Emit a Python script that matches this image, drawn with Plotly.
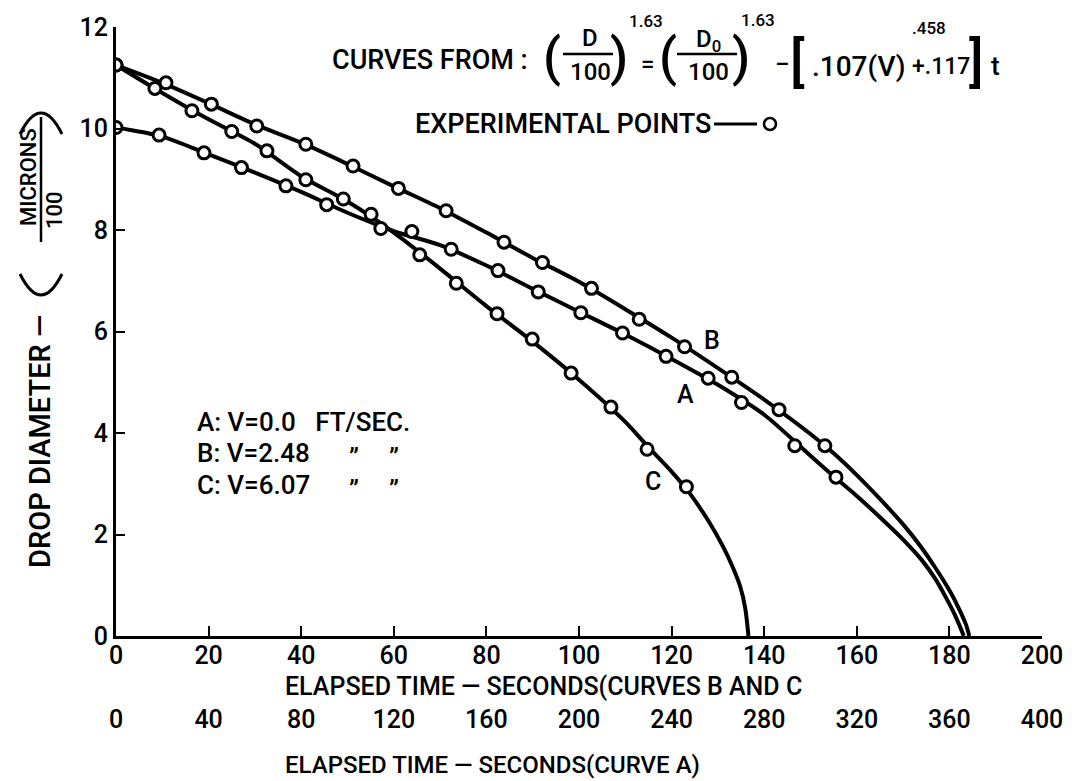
import plotly.graph_objects as go

W, H = 1080, 781

# ---------------- data ----------------
# Curve B, V = 2.48 ft/s  (time axis: seconds, 0-200 scale)
b_exp_t = [0, 10.8, 20.6, 30.4, 41.0, 51.2, 61.0, 71.3, 83.8, 92.1, 102.7, 113.0, 122.8, 133.0, 143.2, 153.1]
b_exp_d = [11.25, 10.90, 10.48, 10.05, 9.69, 9.26, 8.82, 8.38, 7.76, 7.36, 6.85, 6.24, 5.70, 5.10, 4.46, 3.75]
b_cur_t = [0, 10, 20, 30, 40, 50, 60, 70, 80, 90, 100, 110, 120, 130, 140, 150, 155, 160, 165, 170, 174, 177, 180, 182, 183.6, 184.3]
b_cur_d = [11.25, 10.90, 10.50, 10.08, 9.72, 9.30, 8.86, 8.43, 7.95, 7.45, 6.98, 6.44, 5.88, 5.28, 4.66, 3.98, 3.60, 3.17, 2.70, 2.20, 1.74, 1.34, 0.90, 0.55, 0.22, 0]

# Curve C, V = 6.07 ft/s  (time axis: seconds, 0-200 scale)
c_exp_t = [0, 8.4, 16.4, 25.0, 32.6, 41.0, 49.1, 55.1, 65.6, 73.5, 82.3, 89.9, 98.3, 106.9, 114.7, 123.2]
c_exp_d = [11.25, 10.79, 10.35, 9.94, 9.56, 8.99, 8.61, 8.31, 7.51, 6.95, 6.35, 5.85, 5.18, 4.51, 3.68, 2.94]
c_cur_t = [0, 10, 20, 30, 40, 50, 60, 70, 80, 90, 100, 110, 115, 120, 124, 128, 131, 133, 134.8, 135.9, 136.6]
c_cur_d = [11.25, 10.70, 10.18, 9.70, 9.06, 8.56, 7.95, 7.24, 6.50, 5.80, 5.05, 4.22, 3.72, 3.24, 2.80, 2.26, 1.78, 1.40, 0.98, 0.55, 0]

# Curve A, V = 0.0 ft/s  (time axis: seconds, 0-400 scale)
a_exp_t = [0, 18.6, 38.0, 54.2, 73.4, 91.0, 114.4, 127.8, 144.8, 165.0, 182.4, 200.8, 218.8, 237.6, 255.8, 270.2, 293.2, 311.0]
a_exp_d = [10.02, 9.87, 9.52, 9.23, 8.87, 8.50, 8.03, 7.97, 7.62, 7.20, 6.78, 6.37, 5.97, 5.51, 5.08, 4.60, 3.75, 3.13]
a_cur_t = [0, 20, 40, 60, 80, 100, 120, 140, 160, 180, 200, 220, 240, 260, 280, 300, 310, 320, 330, 340, 348, 354, 358, 362, 364.8, 366.2]
a_cur_d = [10.02, 9.84, 9.49, 9.13, 8.75, 8.34, 7.98, 7.70, 7.30, 6.84, 6.39, 5.94, 5.46, 4.95, 4.36, 3.55, 3.15, 2.76, 2.34, 1.90, 1.50, 1.12, 0.80, 0.45, 0.16, 0]

x1_ticks = list(range(0, 201, 20))
x2_ticks = list(range(0, 401, 40))
y_ticks = list(range(0, 13, 2))

FONT = "Roboto, Liberation Sans, Arial, sans-serif"
WEIGHT = 500

def px(x):
    return x / W

def py(y):
    return 1 - y / H

# plot area in pixels
L, R, T, B = 116, 1042, 27, 636

fig = go.Figure()

line_style = dict(color="black", width=4, shape="spline", smoothing=0.8)
marker_style = dict(symbol="circle", size=12, color="white", line=dict(color="black", width=3))

fig.add_trace(go.Scatter(x=b_cur_t, y=b_cur_d, mode="lines", line=line_style, xaxis="x", yaxis="y", showlegend=False))
fig.add_trace(go.Scatter(x=c_cur_t, y=c_cur_d, mode="lines", line=line_style, xaxis="x", yaxis="y", showlegend=False))
fig.add_trace(go.Scatter(x=a_cur_t, y=a_cur_d, mode="lines", line=line_style, xaxis="x2", yaxis="y", showlegend=False))
fig.add_trace(go.Scatter(x=b_exp_t, y=b_exp_d, mode="markers", marker=marker_style, xaxis="x", yaxis="y", showlegend=False))
fig.add_trace(go.Scatter(x=c_exp_t, y=c_exp_d, mode="markers", marker=marker_style, xaxis="x", yaxis="y", showlegend=False))
fig.add_trace(go.Scatter(x=a_exp_t, y=a_exp_d, mode="markers", marker=marker_style, xaxis="x2", yaxis="y", showlegend=False))

tickfont = dict(family=FONT, size=25, color="black", weight=WEIGHT)

fig.update_layout(
    width=W, height=H,
    margin=dict(l=0, r=0, t=0, b=0, autoexpand=False),
    paper_bgcolor="white", plot_bgcolor="white",
    showlegend=False,
    xaxis=dict(
        domain=[px(L), px(R)], range=[0, 200], tickvals=x1_ticks,
        ticks="inside", ticklen=10, tickwidth=2, tickcolor="black",
        showline=True, linewidth=3, linecolor="black",
        showgrid=False, zeroline=False, anchor="y", automargin=False,
        tickfont=tickfont, ticklabelstandoff=-5,
    ),
    xaxis2=dict(
        domain=[px(L), px(R)], range=[0, 400], tickvals=x2_ticks,
        overlaying="x", anchor="free", position=py(702), side="bottom",
        ticks="", showline=False, showgrid=False, zeroline=False, automargin=False,
        tickfont=tickfont,
    ),
    yaxis=dict(
        domain=[py(B), py(T)], range=[0, 12], tickvals=y_ticks,
        ticks="inside", ticklen=9, tickwidth=2, tickcolor="black",
        showline=True, linewidth=3, linecolor="black",
        showgrid=False, zeroline=False, anchor="x", automargin=False,
        tickfont=tickfont,
    ),
)

ann = []

def add_text(text, x, y, size=24, xanchor="center", yanchor="middle", angle=0, ref="pixel"):
    if ref == "pixel":
        xx, yy, xr, yr = px(x), py(y), "paper", "paper"
    else:
        xx, yy, xr, yr = x, y, "x", "y"
    ann.append(dict(text=text, x=xx, y=yy, xref=xr, yref=yr, showarrow=False,
                    xanchor=xanchor, yanchor=yanchor, textangle=angle,
                    font=dict(family=FONT, size=size, color="black", weight=WEIGHT)))

# axis titles
add_text("ELAPSED TIME \u2014 SECONDS(CURVES B AND C", 283, 686, size=25, xanchor="left")
add_text("ELAPSED TIME \u2014 SECONDS(CURVE A)", 283, 765, size=24, xanchor="left")

# y axis title with fraction (parentheses drawn as shapes below)
add_text("DROP DIAMETER \u2014", 40, 442, size=29, angle=-90)
add_text("MICRONS", 28, 177, size=22, angle=-90)
add_text("100", 54, 210, size=22, angle=-90)

# equation
add_text("CURVES FROM :", 330, 60, size=27, xanchor="left")
add_text("(", 552, 58, size=52)
add_text("D", 590, 38, size=24)
add_text("100", 590, 72, size=24)
add_text(")", 619, 58, size=52)
add_text("1.63", 646, 21, size=17)
add_text("=", 648, 64, size=24)
add_text("(", 668, 58, size=52)
add_text("D<sub>0</sub>", 708, 40, size=24)
add_text("100", 708, 72, size=24)
add_text(")", 741, 58, size=52)
add_text("1.63", 758, 20, size=17)
add_text("\u2212", 782, 64, size=26)
add_text("[", 797, 62, size=54)
add_text(".107(V)", 859, 66, size=28)
add_text(".458", 929, 28, size=17)
add_text("+.117", 941, 66, size=23)
add_text("]", 976, 62, size=54)
add_text("t", 995, 66, size=26)

# experimental points key
add_text("EXPERIMENTAL POINTS", 413, 124, size=27, xanchor="left")

# V legend
add_text("A: V=0.0   FT/SEC.", 195, 422, size=26, xanchor="left")
add_text("B: V=2.48", 195, 453, size=26, xanchor="left")
add_text("C: V=6.07", 195, 485, size=26, xanchor="left")
for yy in (453, 485):
    add_text("\u201d", 354, yy + 4, size=26)
    add_text("\u201d", 394, yy + 4, size=26)

# curve labels (data coordinates on the 0-200 axis)
add_text("B", 128.7, 5.83, size=25, ref="data")
add_text("A", 122.9, 4.75, size=25, ref="data")
add_text("C", 116.0, 3.04, size=25, ref="data")

fig.update_layout(annotations=ann)


def qpath(x0, y0, cx, cy, x1, y1):
    return "M {:.5f},{:.5f} Q {:.5f},{:.5f} {:.5f},{:.5f}".format(px(x0), py(y0), px(cx), py(cy), px(x1), py(y1))

shapes = [
    dict(type="line", xref="paper", yref="paper", x0=px(563), x1=px(613), y0=py(54), y1=py(54), line=dict(color="black", width=2.5)),
    dict(type="line", xref="paper", yref="paper", x0=px(677), x1=px(737), y0=py(54), y1=py(54), line=dict(color="black", width=2.5)),
    dict(type="line", xref="paper", yref="paper", x0=px(41), x1=px(41), y0=py(117), y1=py(242), line=dict(color="black", width=2.5)),
    # rotated parentheses of the y title
    dict(type="path", xref="paper", yref="paper", path=qpath(20, 274, 41, 316, 62, 274), line=dict(color="black", width=3)),
    dict(type="path", xref="paper", yref="paper", path=qpath(20, 134, 41, 92, 62, 134), line=dict(color="black", width=3)),
    # experimental points key mark
    dict(type="line", xref="paper", yref="paper", x0=px(714), x1=px(757), y0=py(124), y1=py(124), line=dict(color="black", width=3)),
    dict(type="circle", xref="paper", yref="paper", x0=px(764), x1=px(776), y0=py(118), y1=py(130), line=dict(color="black", width=2.5)),
]
fig.update_layout(shapes=shapes)

fig.write_html("out.html")
